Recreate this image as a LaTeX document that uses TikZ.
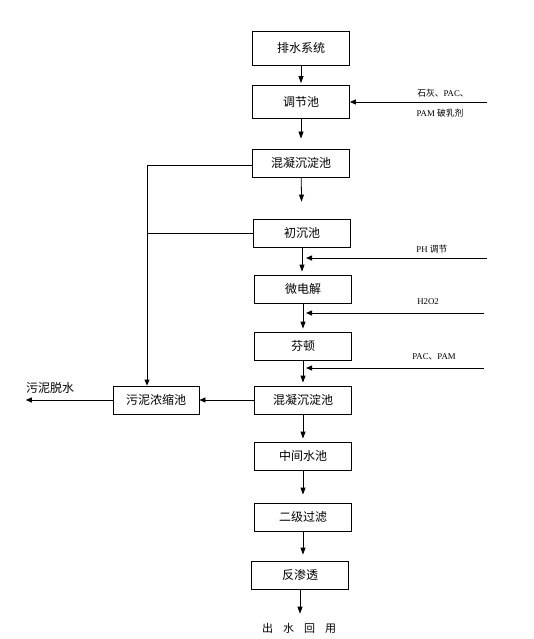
\documentclass[tikz,border=0pt]{standalone}
\usepackage{fontspec}
\setmainfont{Liberation Serif}
\newfontfamily\cjk{Noto Sans CJK SC}
\usetikzlibrary{arrows.meta}
\usetikzlibrary{calc}
\usetikzlibrary{positioning}

\begin{document}
\begin{tikzpicture}[x=1pt, y=-1pt,
    box/.style={draw, thick, minimum width=97pt, minimum height=28pt, inner sep=0pt, font=\cjk\fontsize{12}{14}\selectfont},
    flow/.style={-{Triangle[length=7pt,width=5pt]}, thick, shorten >=3pt},
    feed/.style={-{Triangle[length=6pt,width=5pt]}, thick},
    lab/.style={inner sep=0pt, font=\fontsize{8.8}{10}\selectfont}]
  \useasboundingbox (0,0) rectangle (534,639);

  % main treatment line
  \node [box, minimum height=34pt] (drain) at (301,48) {排水系统};
  \node [box, minimum height=33pt] (equal) at (301,102) {调节池};
  \node [box] (coag) at (301,163) {混凝沉淀池};
  \node [box] (presettle) at (302,233) {初沉池};
  \node [box] (microel) at (303,289) {微电解};
  \node [box] (fenton) at (303,346) {芬顿};
  \node [box] (coagb) at (303,400) {混凝沉淀池};
  \node [box] (midtank) at (303,456) {中间水池};
  \node [box] (filter) at (303,517) {二级过滤};
  \node [box] (ro) at (300,575) {反渗透};
  \node [font=\cjk\fontsize{11}{13}\selectfont, inner sep=0pt] (reuse) at (299,628) {出\hspace{10pt}水\hspace{10pt}回\hspace{10pt}用};

  \draw [flow, shorten >=2pt] (drain) -- (equal);
  \draw [flow, shorten >=10pt] (equal) -- (coag);
  \draw [flow, shorten >=17pt] (coag) -- (presettle);
  \draw [flow] (presettle) -- (presettle |- microel.north);
  \draw [flow] (microel) -- (fenton);
  \draw [flow] (fenton) -- (coagb);
  \draw [flow] (coagb) -- (midtank);
  \draw [flow, shorten >=8pt] (midtank) -- (filter);
  \draw [flow, shorten >=6pt] (filter) -- (filter |- ro.north);
  \draw [flow, shorten >=9pt] (ro) -- (ro |- reuse.north);

  % dosing
  \coordinate (limein) at (487,102);
  \coordinate (phin) at (487,258);
  \coordinate (hpin) at (484,313);
  \coordinate (pacin) at (484,368);
  \draw [feed] (limein) -- (equal.east);
  \draw [feed] (phin) -- ([xshift=3pt]phin -| microel.north);
  \draw [feed] (hpin) -- ([xshift=3pt]hpin -| microel.north);
  \draw [feed] (pacin) -- ([xshift=3pt]pacin -| microel.north);
  \node [lab] (limetxt) at (443,93) {{\cjk 石灰、}PAC{\cjk 、}};
  \node [lab] (pamtxt) at (440,113) {PAM {\cjk 破乳剂}};
  \node [lab] (phtxt) at (432,249) {PH {\cjk 调节}};
  \node [lab] (hptxt) at (428,302) {H2O2};
  \node [lab] (pactxt) at (434,357) {PAC{\cjk 、}PAM};

  % sludge line
  \node [box, minimum width=86pt] (sludge) at (156,400) {污泥浓缩池};
  \node [font=\cjk\fontsize{12}{14}\selectfont, inner sep=0pt] (dewater) at (50,388) {污泥脱水};
  \coordinate (sludgetop) at (147,165);
  \draw [thick] (coag.west |- sludgetop) -- (sludgetop);
  \draw [thick] (presettle.west) -- (presettle.west -| sludgetop);
  \draw [feed] (sludgetop) -- (sludgetop |- sludge.north);
  \draw [feed] (coagb) -- (sludge);
  \draw [feed] (sludge) -- (dewater.west |- sludge.west);
\end{tikzpicture}
\end{document}
